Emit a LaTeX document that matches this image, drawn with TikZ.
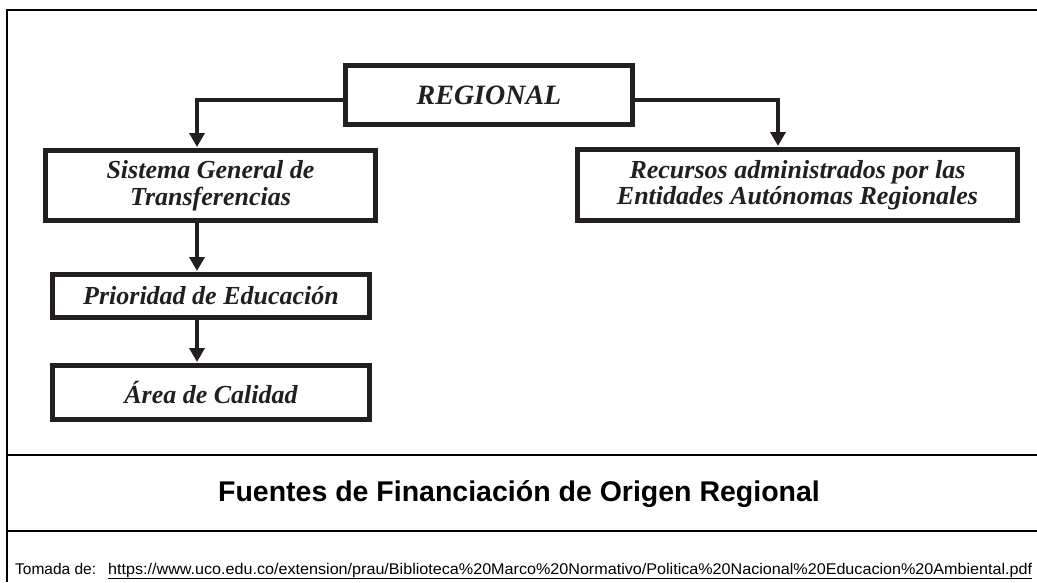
\documentclass[tikz,border=0pt]{standalone}
\usepackage{fontspec}
\setmainfont{Liberation Serif}
\newfontfamily\arial{Liberation Sans}
\usetikzlibrary{arrows.meta}
\definecolor{ink}{HTML}{231F20}
\tikzset{
  box/.style={draw=ink, line width=5pt, fill=white, align=center, text=ink,
    font=\fontsize{26}{26.5}\selectfont\bfseries\itshape, inner sep=0pt},
  arr/.style={draw=ink, line width=4pt, -{Triangle[width=15pt,length=14pt]}, shorten >=1pt},
  frame/.style={draw=black, line width=2pt},
  foot/.style={anchor=base west, font=\arial\fontsize{15.5}{16}\selectfont, inner sep=0pt}
}
\begin{document}
\begin{tikzpicture}[x=1pt,y=-1pt]
\useasboundingbox (0,0) rectangle (1037,582);
% frame
\coordinate (ftl) at (7,10);
\coordinate (ftr) at (1037,10);
\coordinate (fbl) at (7,582);
\coordinate (l1a) at (7,455);
\coordinate (l1b) at (1037,455);
\coordinate (l2a) at (7,531);
\coordinate (l2b) at (1037,531);
\draw[frame] (ftr) -- (ftl) -- (fbl);
\draw[frame] (l1a) -- (l1b);
\draw[frame] (l2a) -- (l2b);
% boxes
\node[box, minimum width=287pt, minimum height=59pt] (reg) at (489,95) {\fontsize{28}{28}\selectfont REGIONAL};
\node[box, minimum width=330pt, minimum height=70pt] (sis) at (210.5,185.5) {Sistema General de\\Transferencias};
\node[box, minimum width=440pt, minimum height=71pt] (rec) at (797.5,185) {Recursos administrados por las\\Entidades Autónomas Regionales};
\node[box, minimum width=317pt, minimum height=43pt] (pri) at (211,296) {Prioridad de Educación};
\node[box, minimum width=317pt, minimum height=54pt] (are) at (211,392.5) {Área de Calidad};
% connectors
\draw[arr] ([yshift=-5pt]reg.west) -| ([xshift=-13.5pt]sis.north);
\draw[arr] ([yshift=-5pt]reg.east) -| ([xshift=-19.5pt]rec.north);
\draw[arr] ([xshift=-13.5pt]sis.south) -- ([xshift=-13.5pt]sis.south |- pri.north);
\draw[arr] ([xshift=-14pt]pri.south) -- ([xshift=-14pt]pri.south |- are.north);
% title
\node[anchor=base, font=\arial\bfseries\fontsize{28.5}{30}\selectfont, inner sep=0pt] (title) at (519,501) {Fuentes de Financiación de Origen Regional};
% footer
\node[foot] (tom) at (15,574) {Tomada de:};
\node[foot] (url) at (108,574) {\resizebox{924pt}{\height}{\underline{https://www.uco.edu.co/extension/prau/Biblioteca\%20Marco\%20Normativo/Politica\%20Nacional\%20Educacion\%20Ambiental.pdf}}};
\end{tikzpicture}
\end{document}
